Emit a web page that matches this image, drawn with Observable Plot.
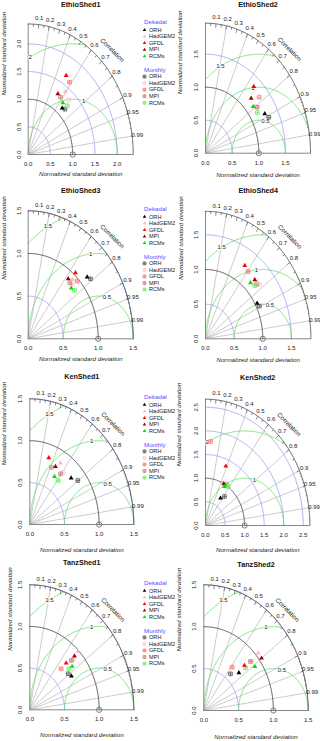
<!DOCTYPE html>
<html><head><meta charset="utf-8">
<script src="https://cdn.jsdelivr.net/npm/d3@7"></script>
<script src="https://cdn.jsdelivr.net/npm/@observablehq/plot@0.6"></script>
<style>
body{margin:0;background:#fff;}
#fig{position:relative;width:320px;height:741px;overflow:hidden;background:#fff;}
#fig svg{position:absolute;}
</style></head><body><div id="fig"></div>
<script>
// ---------- data ----------
const titles = ["EthioShed1","EthioShed2","EthioShed3","EthioShed4","KenShed1","KenShed2","TanzShed1","TanzShed2"];
const models = ["ORH","HadGEM2","GFDL","MPI","RCMs"];
const maxSd = [2.36,1.97,1.5,1.84,1.5,2.67,1.5,1.5];
const axisTicks = [[0,0.5,1,1.5,2],[0,0.5,1,1.5],[0,0.5,1,1.5],[0,0.5,1,1.5],[0,0.5,1,1.5],[0,0.5,1,1.5,2,2.5],[0,0.5,1,1.5],[0,0.5,1,1.5]];
const corLabels = [0.1,0.2,0.3,0.4,0.5,0.6,0.7,0.8,0.9,0.95,0.99];
const corLines = [0.2,0.4,0.6,0.8,0.9,0.95,0.99];
const bigTicks = [0.1,0.2,0.3,0.4,0.5,0.6,0.7,0.8,0.9];
const medTicks = [0.05,0.15,0.25,0.35,0.45,0.55,0.65,0.75,0.85,0.95];
const smlTicks = [0.91,0.92,0.93,0.94,0.95,0.96,0.97,0.98,0.99];
// normalized standard deviation & correlation, order = models
const dekSd = [
  [1.133,1.414,1.664,1.283,1.216],
  [1.262,1.312,1.357,1.195,1.140],
  [1.110,0.937,1.027,0.906,0.854],
  [1.037,1.216,1.261,1.210,1.126],
  [0.813,0.855,0.842,0.785,0.674],
  [0.693,1.008,1.357,0.997,0.957],
  [0.724,0.984,0.767,0.911,0.802],
  [0.675,1.038,0.794,1.038,0.902]];
const dekCor = [
  [0.674,0.593,0.513,0.520,0.641],
  [0.881,0.753,0.668,0.717,0.784],
  [0.759,0.671,0.658,0.631,0.719],
  [0.869,0.741,0.544,0.711,0.697],
  [0.733,0.517,0.325,0.472,0.528],
  [0.554,0.448,0.383,0.470,0.508],
  [0.830,0.703,0.683,0.707,0.761],
  [0.746,0.752,0.736,0.799,0.813]];
const monSd = [
  [1.162,1.346,1.604,1.266,1.242],
  [1.307,1.189,1.316,1.193,1.153],
  [1.134,0.895,0.973,0.886,0.871],
  [1.053,1.225,1.223,1.189,1.154],
  [0.869,0.785,0.749,0.749,0.666],
  [0.782,0.992,1.779,1.019,1.008],
  [0.702,0.869,0.668,0.844,0.747],
  [0.581,0.903,0.658,0.890,0.786]];
const monCor = [
  [0.709,0.679,0.579,0.574,0.705],
  [0.909,0.804,0.765,0.812,0.845],
  [0.785,0.703,0.719,0.672,0.760],
  [0.894,0.769,0.608,0.748,0.746],
  [0.797,0.612,0.417,0.590,0.614],
  [0.621,0.524,0.072,0.527,0.575],
  [0.788,0.719,0.676,0.712,0.753],
  [0.659,0.759,0.619,0.754,0.762]];

// ---------- styling / layout ----------
const dekColors = ["#000000","#ffb6c1","#ff0000","#a00000","#00dd00"];
const monColors = ["#555555","#ffc8d2","#ff7070","#cc7a7a","#66ee66"];
const layout = [
 {left:0,top:0,ox:27.7,oy:154,w:105,h:130.5,titleY:4.5,xlabDy:20,ylabDx:-23.7},
 {left:160,top:0,ox:45,oy:152.7,w:105,h:130,titleY:4.5,xlabDy:22.3,ylabDx:-25},
 {left:0,top:185,ox:27.7,oy:153.3,w:105,h:128,titleY:5,xlabDy:20.7,ylabDx:-24.4},
 {left:160,top:185,ox:45,oy:153.3,w:105.4,h:127.5,titleY:5,xlabDy:21.7,ylabDx:-24.3},
 {left:0,top:370,ox:29.3,oy:154,w:104,h:125.7,titleY:6,xlabDy:25.3,ylabDx:-25.3},
 {left:160,top:370,ox:45,oy:155,w:104.4,h:126.3,titleY:7.3,xlabDy:24.3,ylabDx:-26.7},
 {left:0,top:555,ox:29.3,oy:154.3,w:104,h:125,titleY:7,xlabDy:25.7,ylabDx:-19.3},
 {left:160,top:555,ox:43.3,oy:155,w:104.4,h:125.7,titleY:9.3,xlabDy:26.7,ylabDx:-25}
];
const FONT = "'Liberation Sans', Arial, Helvetica, sans-serif";

function makePanel(i) {
  const L = layout[i], m = maxSd[i];
  const W = L.left === 0 ? 185 : 160, H = 186;
  const quarter = d3.range(0, 90.001, 0.5).map(a => a * Math.PI / 180);
  const arcPts = (r) => quarter.map(a => ({x: r * Math.cos(a), y: r * Math.sin(a), k: r}));
  const ticks = axisTicks[i];
  const blue = ticks.filter(t => t > 0 && t !== 1).flatMap(arcPts);
  const gamma = d3.ticks(0, m, 3).filter(g => g > 0 && g <= m + 1e-9);
  const green = gamma.flatMap(g => d3.range(0, Math.PI, 0.004)
      .map(a => ({x: 1 + g * Math.cos(a), y: g * Math.sin(a), k: g}))
      .filter(p => p.x >= 0 && p.x * p.x + p.y * p.y <= m * m));
  const n = gamma.length;
  const glab = gamma.map((g, j) => {
    const idx = Math.floor(n === 1 ? 45 : 45 + j * 25 / (n - 1));
    const a = (idx - 1) * 0.03;
    return {x: 1 + g * Math.cos(a), y: g * Math.sin(a), g};
  }).filter(p => p.x > 0);
  const polY = c => Math.sqrt(1 - c * c);
  const dek = models.map((mod, j) => ({j, sd: dekSd[i][j], cor: dekCor[i][j]}));
  const mon = models.map((mod, j) => ({j, sd: monSd[i][j], cor: monCor[i][j]}));
  const px = d => d.sd * d.cor, py = d => d.sd * Math.sqrt(1 - d.cor * d.cor);
  const tk = (arr, f) => Plot.link(arr, {x1: c => m * c, y1: c => m * polY(c), x2: c => f * m * c, y2: c => f * m * polY(c), stroke: "#555", strokeWidth: 0.7});

  const marks = [
    Plot.line(blue, {x: "x", y: "y", z: "k", stroke: "#8c8cf5", strokeWidth: 0.7}),
    Plot.line(green, {x: "x", y: "y", z: "k", stroke: "#55dd55", strokeWidth: 0.8}),
    Plot.link(corLines, {x1: 0, y1: 0, x2: c => m * c, y2: c => m * polY(c), stroke: "#aaaaaa", strokeWidth: 0.6}),
    Plot.ruleX([0], {y1: 0, y2: m, stroke: "#888", strokeWidth: 1}),
    Plot.ruleY([0], {x1: 0, x2: m, stroke: "#888", strokeWidth: 1}),
    Plot.line(arcPts(1), {x: "x", y: "y", stroke: "#444", strokeWidth: 0.9}),
    Plot.line(arcPts(m), {x: "x", y: "y", stroke: "#555", strokeWidth: 0.9}),
    tk(bigTicks, 0.97), tk(medTicks, 0.98), tk(smlTicks, 0.99),
    Plot.text(corLabels, {x: c => 1.05 * m * c, y: c => 1.05 * m * polY(c), text: c => String(c), fontSize: 6, fill: "#222"}),
    Plot.text(["Correlation"], {x: () => 0.8 * m, y: () => 0.8 * m, rotate: 45, fontSize: 6.3, fill: "#222"}),
    Plot.text(glab, {x: "x", y: "y", text: d => String(d.g), fontSize: 6, fill: "#222", stroke: "white", strokeWidth: 1.5}),
    Plot.dot([1], {x: d => d, y: 0, r: 2.6, stroke: "#777", strokeWidth: 1, fill: "none"}),
    Plot.text(ticks, {x: d => d, y: 0, dy: 9.5, text: d => d.toFixed(1), fontSize: 6, fill: "#222"}),
    Plot.text(ticks, {x: 0, y: d => d, dx: -9.4, rotate: -90, text: d => d.toFixed(1), fontSize: 6, fill: "#222"}),
    Plot.text(["Normalized standard deviation"], {frameAnchor: "bottom", dy: L.xlabDy, lineAnchor: "middle", fontStyle: "italic", fontSize: 6.2, fill: "#222"}),
    Plot.text(["Normalized standard deviation"], {frameAnchor: "left", dx: L.ylabDx, dy: L.h / 2 - 59, rotate: -90, lineAnchor: "middle", fontStyle: "italic", fontSize: 6.2, fill: "#222"}),
    Plot.text([titles[i]], {frameAnchor: "top", dy: L.titleY - (L.oy - L.h), lineAnchor: "middle", fontWeight: "bold", fontSize: 7.2, fill: "#111"})
  ];
  models.forEach((mod, j) => {
    const mm = mon.filter(d => d.j === j);
    marks.push(Plot.dot(mm, {x: px, y: py, symbol: "square2", r: 2.3, stroke: monColors[j], strokeWidth: 0.8}));
    marks.push(Plot.dot(mm, {x: px, y: py, symbol: "plus", r: 1.45, stroke: monColors[j], strokeWidth: 0.7}));
  });
  models.forEach((mod, j) => {
    marks.push(Plot.dot(dek.filter(d => d.j === j), {x: px, y: py, symbol: "triangle", r: 1.8, fill: dekColors[j]}));
  });
  if (L.left === 0) {
    const lx = 144 - (L.ox + L.w);
    const items = (title, y0, kind) => {
      marks.push(Plot.text([title], {frameAnchor: "top-right", dx: lx - 0.5, dy: y0, textAnchor: "start", lineAnchor: "middle", fontSize: 6.2, fill: "#5050ff"}));
      models.forEach((mod, j) => {
        const dy = y0 + (kind === "dek" ? 7.5 : 6.8) + j * 6.55;
        if (kind === "dek") {
          marks.push(Plot.dot([0], {frameAnchor: "top-right", dx: lx, dy, symbol: "triangle", r: 1.3, fill: dekColors[j]}));
        } else {
          marks.push(Plot.dot([0], {frameAnchor: "top-right", dx: lx, dy, symbol: "square2", r: 1.8, stroke: monColors[j], strokeWidth: 0.8}));
          marks.push(Plot.dot([0], {frameAnchor: "top-right", dx: lx, dy, symbol: "plus", r: 1.05, stroke: monColors[j], strokeWidth: 0.6}));
        }
        marks.push(Plot.text([mod], {frameAnchor: "top-right", dx: lx + 4.5, dy, textAnchor: "start", lineAnchor: "middle", fontSize: 5.6, fill: "#222"}));
      });
    };
    items("Dekadal", -1.5, "dek");
    items("Monthly", 45.8, "mon");
  }
  const svg = Plot.plot({
    width: W, height: H,
    marginLeft: L.ox, marginRight: W - L.ox - L.w,
    marginTop: L.oy - L.h, marginBottom: H - L.oy,
    x: {domain: [0, m], axis: null},
    y: {domain: [0, m], axis: null},
    style: {background: "transparent", overflow: "visible", fontFamily: FONT},
    marks
  });
  svg.style.left = L.left + "px";
  svg.style.top = L.top + "px";
  return svg;
}
const fig = document.getElementById("fig");
[1,3,5,7,0,2,4,6].forEach(i => fig.appendChild(makePanel(i)));
</script></body></html>
